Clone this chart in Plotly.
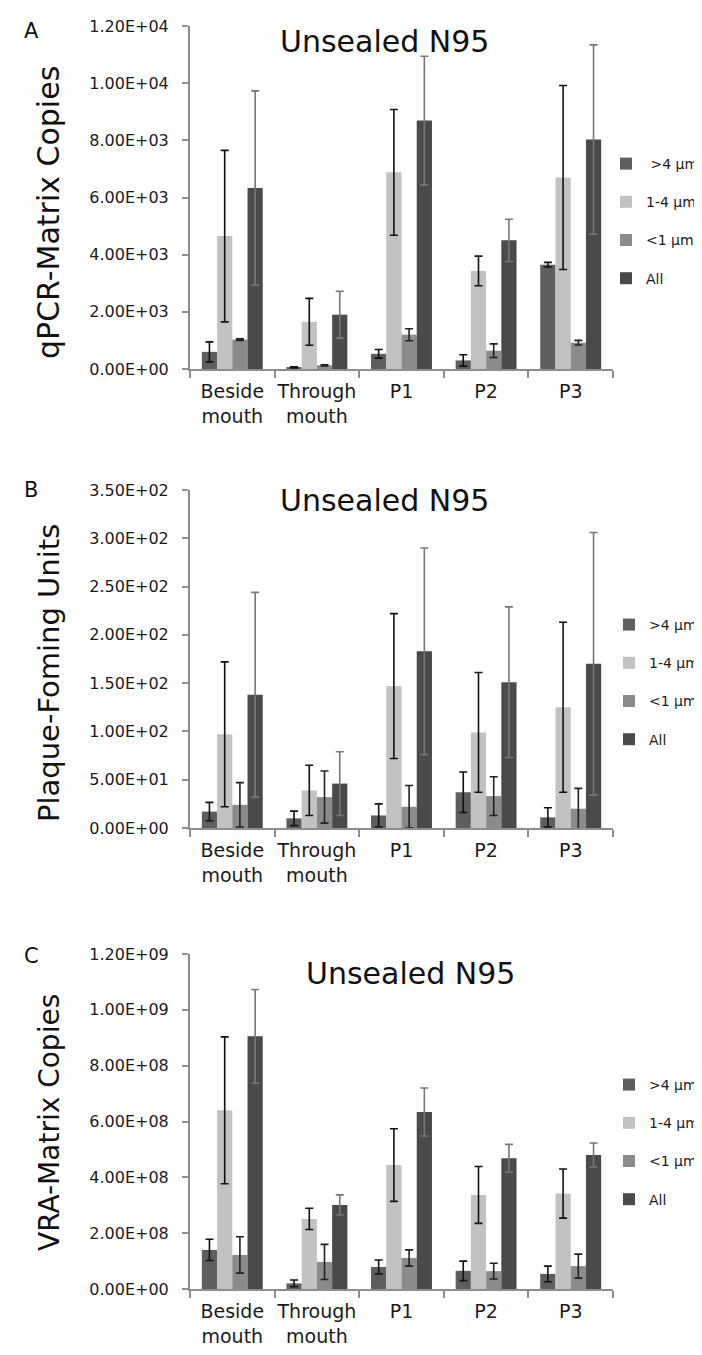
import plotly.graph_objects as go

# ---------------- data ----------------
categories = ["Beside<br>mouth", "Through<br>mouth", "P1", "P2", "P3"]
series_names_a = ["\u00a0>4 μm", "1-4 μm", "<1 μm", "All"]
series_names = [">4 μm", "1-4 μm", "<1 μm", "All"]

# Panel A: qPCR-Matrix Copies
a_gt4 = [600, 60, 530, 300, 3650]
a_gt4_err = [350, 20, 150, 200, 80]
a_1_4 = [4650, 1650, 6880, 3430, 6700]
a_1_4_err = [3000, 820, 2200, 520, 3220]
a_lt1 = [1030, 130, 1200, 640, 920]
a_lt1_err = [30, 20, 210, 240, 80]
a_all = [6330, 1900, 8690, 4500, 8030]
a_all_err = [3400, 820, 2250, 740, 3310]

# Panel B: Plaque-forming units
b_gt4 = [17, 10, 13, 37, 11]
b_gt4_err = [9.5, 7.5, 12, 21, 10]
b_1_4 = [97, 39, 147, 99, 125]
b_1_4_err = [75, 26, 75, 62, 88]
b_lt1 = [24, 32, 22, 33, 20]
b_lt1_err = [23, 27, 22, 20, 21]
b_all = [138, 46, 183, 151, 170]
b_all_err = [106, 33, 107, 78, 136]

# Panel C: VRA-Matrix Copies
c_gt4 = [1.40e8, 0.20e8, 0.79e8, 0.65e8, 0.54e8]
c_gt4_err = [0.38e8, 0.12e8, 0.25e8, 0.35e8, 0.28e8]
c_1_4 = [6.40e8, 2.51e8, 4.44e8, 3.37e8, 3.42e8]
c_1_4_err = [2.63e8, 0.38e8, 1.30e8, 1.02e8, 0.88e8]
c_lt1 = [1.22e8, 0.97e8, 1.11e8, 0.64e8, 0.82e8]
c_lt1_err = [0.65e8, 0.63e8, 0.29e8, 0.28e8, 0.43e8]
c_all = [9.05e8, 3.01e8, 6.34e8, 4.68e8, 4.80e8]
c_all_err = [1.68e8, 0.36e8, 0.86e8, 0.50e8, 0.43e8]

# tick labels
a_tickvals = [0, 2000, 4000, 6000, 8000, 10000, 12000]
a_ticktext = ["0.00E+00", "2.00E+03", "4.00E+03", "6.00E+03", "8.00E+03", "1.00E+04", "1.20E+04"]
b_tickvals = [0, 50, 100, 150, 200, 250, 300, 350]
b_ticktext = ["0.00E+00", "5.00E+01", "1.00E+02", "1.50E+02", "2.00E+02", "2.50E+02", "3.00E+02", "3.50E+02"]
c_tickvals = [0, 2e8, 4e8, 6e8, 8e8, 1e9, 1.2e9]
c_ticktext = ["0.00E+00", "2.00E+08", "4.00E+08", "6.00E+08", "8.00E+08", "1.00E+09", "1.20E+09"]

panel_titles = ["Unsealed N95", "Unsealed N95", "Unsealed N95"]
panel_letters = ["A", "B", "C"]
y_titles = ["qPCR-Matrix Copies", "Plaque-Foming Units", "VRA-Matrix Copies"]

# ---------------- styling ----------------
W, H = 702, 1355
FONT = "DejaVu Sans"
colors = ["#5e5e5e", "#c2c2c2", "#8b8b8b", "#4a4a4a"]
err_colors = ["#111111", "#111111", "#222222", "#777777"]
AXC = "#8e8e8e"

def px(x):
    return x / W

def py(y):
    return 1 - y / H

plot_x = [182, 605]
plot_y = [(18, 361), (482, 820), (946, 1281)]
legend_top = [140, 601, 1061]
title_pos = [(376, 33), (376, 493), (402, 965)]
letter_pos = [(23, 23), (23, 482), (23, 948)]
ytitle_pos = [(41, 205, 30), (41, 665, 29), (41, 1115, 28)]

panels = [
    (series_names_a, [a_gt4, a_1_4, a_lt1, a_all], [a_gt4_err, a_1_4_err, a_lt1_err, a_all_err],
     a_tickvals, a_ticktext, 12000),
    (series_names, [b_gt4, b_1_4, b_lt1, b_all], [b_gt4_err, b_1_4_err, b_lt1_err, b_all_err],
     b_tickvals, b_ticktext, 350),
    (series_names, [c_gt4, c_1_4, c_lt1, c_all], [c_gt4_err, c_1_4_err, c_lt1_err, c_all_err],
     c_tickvals, c_ticktext, 1.2e9),
]

fig = go.Figure()
layout = dict(
    width=W, height=H,
    margin=dict(l=0, r=0, t=0, b=0, autoexpand=False),
    template="none",
    paper_bgcolor="white", plot_bgcolor="white",
    barmode="group", bargap=0.28, bargroupgap=0.0,
    font=dict(family=FONT, color="#111111"),
    annotations=[],
)

for i, (names, vals, errs, tv, tt, ymax) in enumerate(panels):
    sfx = "" if i == 0 else str(i + 1)
    leg = "legend" + sfx
    for j in range(4):
        fig.add_trace(go.Bar(
            x=categories, y=vals[j], name=names[j],
            marker=dict(color=colors[j], line=dict(width=0)),
            error_y=dict(type="data", array=errs[j], visible=True,
                         color=err_colors[j], thickness=1.6, width=4),
            xaxis="x" + sfx, yaxis="y" + sfx,
            legend=leg, legendgroup=f"g{i}{j}",
        ))
    y0, y1 = plot_y[i]
    layout["xaxis" + sfx] = dict(
        domain=[px(plot_x[0]), px(plot_x[1])], anchor="y" + sfx,
        type="category", tickson="boundaries", ticks="outside", ticklen=7,
        tickcolor=AXC, tickwidth=1.5, showline=True, linecolor=AXC, linewidth=2,
        showgrid=False, zeroline=False, tickangle=0,
        tickfont=dict(family=FONT, size=19, color="#1a1a1a"),
        ticklabelstandoff=4,
    )
    layout["yaxis" + sfx] = dict(
        domain=[py(y1), py(y0)], anchor="x" + sfx, range=[0, ymax],
        tickvals=tv, ticktext=tt, ticks="outside", ticklen=6, tickcolor=AXC,
        tickwidth=1.5, showline=True, linecolor=AXC, linewidth=2,
        showgrid=False, zeroline=False,
        tickfont=dict(family=FONT, size=16, color="#1a1a1a"),
        ticklabelstandoff=10,
    )
    layout[leg] = dict(
        x=px(696), y=py(legend_top[i]), xanchor="right", yanchor="top",
        xref="paper", yref="paper", bgcolor="rgba(0,0,0,0)",
        font=dict(family=FONT, size=14, color="#1a1a1a"),
        tracegroupgap=17, traceorder="grouped",
    )
    tx, ty = title_pos[i]
    layout["annotations"].append(dict(
        text=panel_titles[i], x=px(tx), y=py(ty), xref="paper", yref="paper",
        showarrow=False, xanchor="center", yanchor="middle",
        font=dict(family=FONT, size=30, color="#111111")))
    lx, ly = letter_pos[i]
    layout["annotations"].append(dict(
        text=panel_letters[i], x=px(lx), y=py(ly), xref="paper", yref="paper",
        showarrow=False, xanchor="center", yanchor="middle",
        font=dict(family=FONT, size=21, color="#111111")))
    yx, yy, fs = ytitle_pos[i]
    layout["annotations"].append(dict(
        text=y_titles[i], x=px(yx), y=py(yy), xref="paper", yref="paper",
        showarrow=False, xanchor="center", yanchor="middle", textangle=-90,
        font=dict(family=FONT, size=fs, color="#111111")))

fig.update_layout(**layout)
fig.write_html("out.html")
